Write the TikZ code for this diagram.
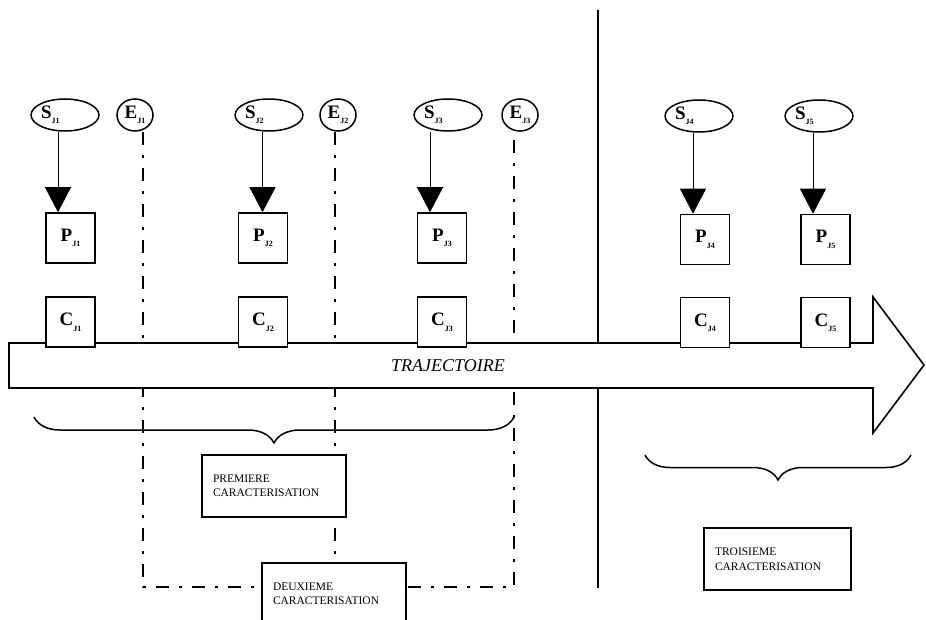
\documentclass[tikz,border=0pt]{standalone}
\usepackage{fontspec}
\setmainfont{Liberation Serif}
\usetikzlibrary{arrows.meta,decorations.pathreplacing,shapes.geometric}
\newcommand{\lbl}[2]{\textbf{#1}\raisebox{-5.5pt}{\fontsize{8}{8}\selectfont\textbf{#2}}}
\begin{document}
\begin{tikzpicture}[x=1pt,y=-1pt,
  sell/.style={ellipse, draw, line width=1.5pt, fill=white, minimum width=62pt, minimum height=32pt, inner sep=0pt, font=\fontsize{19}{21}\selectfont},
  eell/.style={sell, minimum width=36pt},
  sq/.style={rectangle, draw, line width=1.6pt, fill=white, minimum width=49pt, minimum height=50pt, inner sep=0pt, font=\fontsize{19}{21}\selectfont},
  arr/.style={line width=0.9pt, -{Triangle[width=26pt,length=25pt]}},
  dd/.style={line width=1.5pt, dash pattern=on 13pt off 10pt on 3pt off 10pt},
  solid line/.style={line width=1.6pt},
  lbox/.style={rectangle, draw, line width=1.6pt, fill=white, align=left, text width=122pt, inner xsep=11pt, inner ysep=0pt, minimum height=62pt, font=\fontsize{11.5}{14.5}\selectfont},
  brc/.style={line width=1.5pt, decorate, decoration={brace, amplitude=26pt}}]
\useasboundingbox (0,0) rectangle (926,620);

% guide coordinates
\coordinate (l1) at (143,0);
\coordinate (l2) at (335,0);
\coordinate (l3) at (514,0);
\coordinate (db) at (0,587);
\coordinate (vt) at (598,10);
\coordinate (vb) at (598,588);
\coordinate (a1) at (58,0);
\coordinate (a2) at (262.5,0);
\coordinate (a3) at (430,0);
\coordinate (a4) at (693,0);
\coordinate (a5) at (813,0);

% top ellipses
\node[sell] (Sj1) at (65,115) {\makebox[48pt][l]{\lbl{S}{J1}}};
\node[sell] (Sj2) at (269,115) {\makebox[48pt][l]{\lbl{S}{J2}}};
\node[sell] (Sj3) at (448,115) {\makebox[48pt][l]{\lbl{S}{J3}}};
\node[sell] (Sj4) at (699,116) {\makebox[48pt][l]{\lbl{S}{J4}}};
\node[sell] (Sj5) at (819,116) {\makebox[48pt][l]{\lbl{S}{J5}}};
\node[eell] (Ej1) at (135,115) {\lbl{E}{J1}};
\node[eell] (Ej2) at (338,115) {\lbl{E}{J2}};
\node[eell] (Ej3) at (520,115) {\lbl{E}{J3}};

% dash-dot lines
\draw[dd] (Ej1.south -| l1) -- (l1 |- db) -- (l3 |- db) -- (Ej3.south -| l3);
\draw[dd] (Ej2.south -| l2) -- (l2 |- db);

% vertical separator
\draw[solid line] (vt) -- (vb);

% trajectory arrow
\draw[solid line, fill=white] (9,343) -- (873,343) -- (873,297) -- (924,365) -- (873,433) -- (873,388) -- (9,388) -- cycle;
\node[font=\itshape\fontsize{18}{20}\selectfont] (traj) at (448,366) {TRAJECTOIRE};

% P boxes
\node[sq] (Pj1) at (70.5,238) {\lbl{P}{J1}};
\node[sq] (Pj2) at (263,238) {\lbl{P}{J2}};
\node[sq] (Pj3) at (442,238) {\lbl{P}{J3}};
\node[sq] (Pj4) at (705,239.5) {\lbl{P}{J4}};
\node[sq] (Pj5) at (825.5,239.5) {\lbl{P}{J5}};

% C boxes
\node[sq] (Cj1) at (70.5,322) {\lbl{C}{J1}};
\node[sq] (Cj2) at (263,322) {\lbl{C}{J2}};
\node[sq] (Cj3) at (442,322) {\lbl{C}{J3}};
\node[sq] (Cj4) at (705,322.5) {\lbl{C}{J4}};
\node[sq] (Cj5) at (825.5,322.5) {\lbl{C}{J5}};

% arrows S -> P
\draw[arr] (Sj1.south -| a1) -- (Pj1.north -| a1);
\draw[arr] (Sj2.south -| a2) -- (Pj2.north -| a2);
\draw[arr] (Sj3.south -| a3) -- (Pj3.north -| a3);
\draw[arr] (Sj4.south -| a4) -- (Pj4.north -| a4);
\draw[arr] (Sj5.south -| a5) -- (Pj5.north -| a5);

% braces
\coordinate (b1r) at (514,417);
\coordinate (b1l) at (34,417);
\coordinate (b2r) at (911,455);
\coordinate (b2l) at (645,455);
\draw[brc] (b1r) -- (b1l);
\draw[brc, decoration={amplitude=25pt}] (b2r) -- (b2l);

% characterisation boxes
\node[lbox] (prem) at (274,486) {PREMIERE\\CARACTERISATION};
\node[lbox] (deux) at (334,594) {DEUXIEME\\CARACTERISATION};
\node[lbox, text width=125pt] (trois) at (777.5,559) {TROISIEME\\CARACTERISATION};
\end{tikzpicture}
\end{document}
